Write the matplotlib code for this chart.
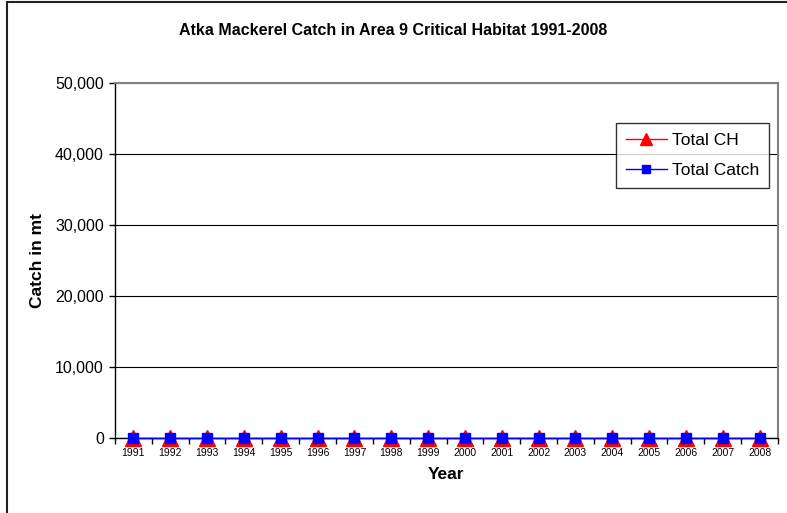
import numpy as np
import matplotlib
matplotlib.use('Agg')
import matplotlib.pyplot as plt
from matplotlib.patches import Rectangle
from matplotlib.ticker import FuncFormatter

years = [str(y) for y in range(1991, 2009)]
total_ch = [0] * 18
total_catch = [0] * 18

plt.rcParams['font.family'] = ['Liberation Sans', 'DejaVu Sans']

fig = plt.figure(figsize=(7.87, 5.13), dpi=100)
ax = fig.add_axes([115 / 787, 1 - 438 / 513, (778 - 115) / 787, (438 - 83) / 513])

# chart border (left and top visible, rest cropped)
fig.patches.append(Rectangle((7 / 787, -0.1), 1.2, 1 - 1.5 / 513 + 0.1,
                             transform=fig.transFigure, fill=False,
                             edgecolor='#222222', linewidth=1.5))

x = np.arange(len(years))
ax.plot(x, total_ch, color='red', marker='^', markersize=11, linewidth=1,
        label='Total CH', clip_on=False, zorder=3)
ax.plot(x, total_catch, color='blue', marker='s', markersize=7.5, linewidth=1,
        label='Total Catch', clip_on=False, zorder=4)

ax.set_xlim(-0.5, len(years) - 0.5)
ax.set_ylim(0, 50000)
ax.set_yticks(np.arange(0, 50001, 10000))
ax.yaxis.set_major_formatter(FuncFormatter(lambda v, p: f'{int(v):,}'))
ax.set_xticks(x)
ax.set_xticklabels(years, fontsize=7.5)
ax.set_xticks(np.arange(-0.5, len(years), 1), minor=True)
ax.tick_params(axis='x', which='major', length=0, pad=7)
ax.tick_params(axis='x', which='minor', length=4, direction='out', width=1)
ax.tick_params(axis='y', length=4, direction='out', width=1, labelsize=11.5, pad=4)
ax.grid(axis='y', color='black', linewidth=0.8)
ax.set_axisbelow(True)

for s in ['top', 'right']:
    ax.spines[s].set_color('#808080')
    ax.spines[s].set_linewidth(1.5)
for s in ['left', 'bottom']:
    ax.spines[s].set_color('black')
    ax.spines[s].set_linewidth(1)

ax.set_xlabel('Year', fontsize=12.5, fontweight='bold', labelpad=7)
ax.set_ylabel('Catch in mt', fontsize=12.5, fontweight='bold', labelpad=7)
fig.text(393 / 787, 1 - 31 / 513, 'Atka Mackerel Catch in Area 9 Critical Habitat 1991-2008',
         ha='center', va='center', fontsize=11.5, fontweight='bold')

leg = ax.legend(loc='upper left', bbox_to_anchor=((616 - 115) / 663, 1 - (123 - 83) / 355),
                frameon=True, fancybox=False, edgecolor='black', fontsize=12.5,
                handlelength=2.4, borderpad=0.55, labelspacing=0.9, handletextpad=0.3,
                borderaxespad=0, markerscale=0.8)
leg.get_frame().set_linewidth(1)

fig.savefig('out.png', dpi=100)
